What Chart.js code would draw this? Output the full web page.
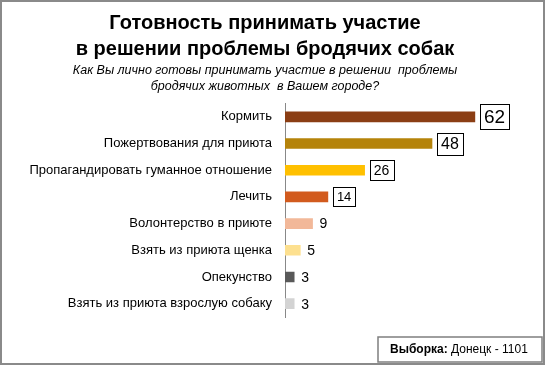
<!DOCTYPE html>
<html>
<head>
<meta charset="utf-8">
<script src="https://cdn.jsdelivr.net/npm/chart.js@4/dist/chart.umd.min.js"></script>
<style>
  html, body { margin: 0; padding: 0; background: #fff; }
  #wrap { width: 546px; height: 367px; position: relative; }
</style>
</head>
<body>
<div id="wrap"><canvas id="bar-chart" width="546" height="367"></canvas></div>
<script>
// данные опроса, %
const categories = [
    'Кормить',
    'Пожертвования для приюта',
    'Пропагандировать гуманное отношение',
    'Лечить',
    'Волонтерство в приюте',
    'Взять из приюта щенка',
    'Опекунство',
    'Взять из приюта взрослую собаку'
];
const values = [62, 48, 26, 14, 9, 5, 3, 3];
const titleLines = ['Готовность принимать участие', 'в решении проблемы бродячих собак'];
const subtitleLines = ['Как Вы лично готовы принимать участие в решении  проблемы', 'бродячих животных  в Вашем городе?'];
const sampleBold = 'Выборка:';
const sampleText = ' Донецк - 1101';

const barColors = ['#8B3E14', '#B5830A', '#FFC000', '#D25B1E', '#F2B899', '#FDE08F', '#595959', '#D3D3D3'];
const labelSizes = [19, 16, 14, 13, 14, 14, 14, 14];
const labelBoxed = [true, true, true, true, false, false, false, false];

const FONT = '"Liberation Sans", Arial, sans-serif';

const decor = {
    id: 'decor',
    afterDatasetsDraw(chart) {
        const ctx = chart.ctx;
        const meta = chart.getDatasetMeta(0);
        ctx.save();
        meta.data.forEach((bar, i) => {
            const size = labelSizes[i];
            ctx.font = size + 'px ' + FONT;
            ctx.fillStyle = '#000';
            ctx.textBaseline = 'middle';
            ctx.textAlign = 'left';
            const txt = String(values[i]);
            const w = ctx.measureText(txt).width;
            if (labelBoxed[i]) {
                const bw = w + 8, bh = size + 6;
                const bx = bar.x + 5, by = bar.y - bh / 2;
                ctx.fillStyle = '#fff';
                ctx.fillRect(bx, by, bw, bh);
                ctx.strokeStyle = '#000';
                ctx.lineWidth = 1;
                ctx.strokeRect(Math.round(bx) + 0.5, Math.round(by) + 0.5, Math.round(bw), Math.round(bh));
                ctx.fillStyle = '#000';
                ctx.fillText(txt, bx + 4, bar.y + 1);
            } else {
                ctx.fillText(txt, bar.x + 7, bar.y + 1);
            }
        });

        // подпись выборки
        ctx.strokeStyle = '#7f7f7f';
        ctx.lineWidth = 1.5;
        ctx.strokeRect(378, 337, 164, 25);
        ctx.font = 'bold 12px ' + FONT;
        ctx.textBaseline = 'middle';
        const bw = ctx.measureText(sampleBold).width;
        ctx.fillText(sampleBold, 390, 350);
        ctx.font = '12px ' + FONT;
        ctx.fillText(sampleText, 390 + bw, 350);

        // рамка
        ctx.strokeStyle = '#8a8a8a';
        ctx.lineWidth = 2;
        ctx.strokeRect(1, 1, 543, 363);
        ctx.restore();
    }
};

new Chart(document.getElementById('bar-chart'), {
    type: 'bar',
    data: {
        labels: categories,
        datasets: [{
            data: values,
            backgroundColor: barColors,
            barThickness: 10
        }]
    },
    options: {
        indexAxis: 'y',
        responsive: false,
        animation: false,
        layout: { padding: { left: 0, right: 16, top: 0, bottom: 50 } },
        plugins: {
            legend: { display: false },
            tooltip: { enabled: false },
            title: {
                display: true,
                text: titleLines,
                color: '#000',
                font: { family: FONT, size: 20, weight: 'bold', lineHeight: 1.3 },
                padding: { top: 10, bottom: 0 }
            },
            subtitle: {
                display: true,
                text: subtitleLines,
                color: '#000',
                font: { family: FONT, size: 12.5, style: 'italic', lineHeight: 1.3 },
                padding: { top: 0, bottom: 9 }
            }
        },
        scales: {
            x: { display: false, min: 0, max: 80 },
            y: {
                grid: { display: false },
                border: { display: true, color: '#888', width: 1 },
                ticks: {
                    color: '#000',
                    font: { family: FONT, size: 13 },
                    padding: 5
                },
                afterFit(scale) { scale.width = 285; }
            }
        }
    },
    plugins: [decor]
});
</script>
</body>
</html>
